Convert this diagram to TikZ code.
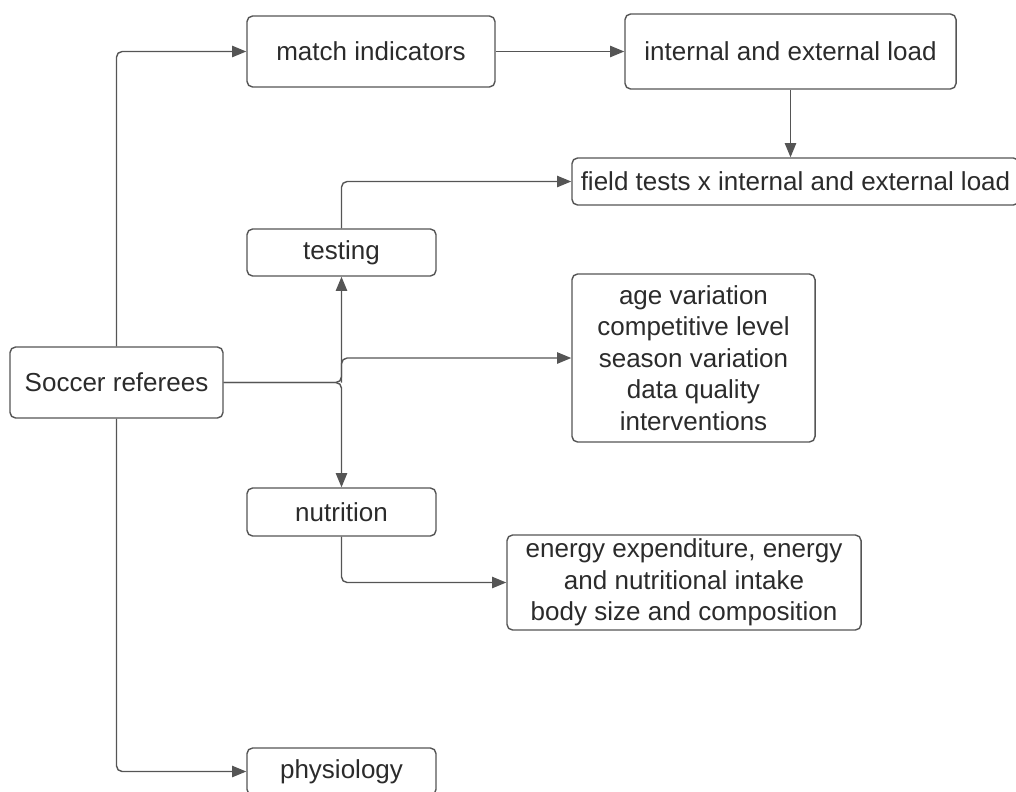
\documentclass[tikz,border=0pt]{standalone}
\usepackage{fontspec}
\setmainfont{Liberation Sans}
\usetikzlibrary{arrows.meta}
\definecolor{linegray}{HTML}{555555}
\definecolor{textgray}{HTML}{2B2B2B}
\begin{document}
\begin{tikzpicture}[x=0.025cm, y=-0.025cm,
      box/.style={draw=linegray, line width=1pt, rounded corners=4pt, align=center,
        inner sep=2pt, text=textgray, font=\fontsize{18.5}{22.3}\selectfont},
      link/.style={draw=linegray, line width=1pt, rounded corners=4pt,
        -{Triangle[length=10pt, width=8pt]}}
    ]
    \useasboundingbox (0,0) rectangle (1016,791);

    \node[box, minimum width=5.325cm, minimum height=1.775cm] (REF) at (116.5,382.5) {Soccer referees};
    \node[box, minimum width=6.2cm, minimum height=1.775cm] (MATCH) at (371,51.5) {match indicators};
    \node[box, minimum width=8.275cm, minimum height=1.875cm] (LOAD) at (790.5,51.5) {internal and external load};
    \node[box, minimum width=11.175cm, minimum height=1.175cm] (FIELD) at (795.5,181.5) {field tests x internal and external load};
    \node[box, minimum width=4.725cm, minimum height=1.175cm] (TEST) at (341.5,252.5) {testing};
    \node[box, minimum width=6.075cm, minimum height=4.2cm] (VAR) at (693.5,358)
      {age variation\\competitive level\\season variation\\data quality\\interventions};
    \node[box, minimum width=4.725cm, minimum height=1.2cm] (NUTR) at (341.5,512) {nutrition};
    \node[box, minimum width=8.85cm, minimum height=2.375cm] (ENERGY) at (684,582.5)
      {energy expenditure, energy\\and nutritional intake\\body size and composition};
    \node[box, minimum width=4.725cm, minimum height=1.175cm] (PHYS) at (341.5,771.5) {physiology};

    \coordinate (JN) at (TEST.south |- REF.east);

    \draw[link] (REF.north) |- (MATCH.west);
    \draw[link] (REF.south) |- (PHYS.west);
    \draw[link] (MATCH) -- (LOAD);
    \draw[link] (LOAD.south) -- (LOAD.south |- FIELD.north);
    \draw[link] (TEST.north) |- (FIELD.west);
    \draw[link] (REF.east) -| (TEST.south);
    \draw[link] (REF.east) -| (NUTR.north);
    \draw[link] (JN) |- (VAR.west);
    \draw[link] (NUTR.south) |- (ENERGY.west);

    \end{tikzpicture}
\end{document}
